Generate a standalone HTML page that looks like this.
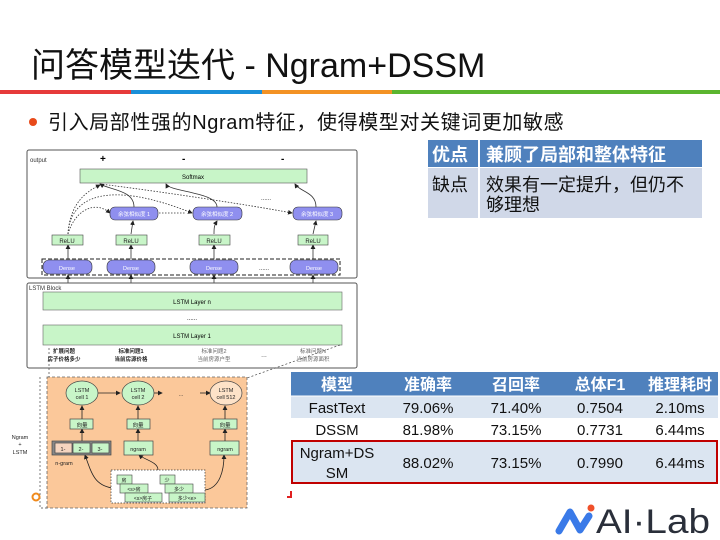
<!DOCTYPE html>
<html><head><meta charset="utf-8"><style>
body{margin:0;width:720px;height:540px;background:#fff;overflow:hidden;position:relative;font-family:"Liberation Sans","Noto Sans CJK SC",sans-serif}
.a{position:absolute}
</style></head><body>
<div class="a" style="left:31px;top:38px;font-size:34px;color:#111;white-space:nowrap">问答模型迭代 - Ngram+DSSM</div>
<div class="a" style="left:0;top:90px;width:131px;height:4px;background:#e63a3a"></div>
<div class="a" style="left:131px;top:90px;width:131px;height:4px;background:#1a8fd8"></div>
<div class="a" style="left:262px;top:90px;width:130px;height:4px;background:#f39224"></div>
<div class="a" style="left:392px;top:90px;width:328px;height:4px;background:#5bb52f"></div>
<div class="a" style="left:29px;top:118px;width:8px;height:8px;border-radius:50%;background:#e84a1a"></div>
<div class="a" style="left:48px;top:106px;font-size:20px;letter-spacing:0.6px;color:#111;white-space:nowrap">引入局部性强的Ngram特征，使得模型对关键词更加敏感</div>

<svg class="a" style="left:0;top:0" width="720" height="540" font-family="Liberation Sans,Noto Sans CJK SC,sans-serif">
<defs><marker id="m" markerWidth="6" markerHeight="6" refX="5" refY="3" orient="auto"><path d="M0,0L6,3L0,6z" fill="#222"/></marker></defs>
<rect x="428" y="140" width="274" height="27" fill="#4f81bd"/>
<rect x="428" y="168" width="274" height="50" fill="#d0d8e8"/>
<line x1="479" y1="140" x2="479" y2="218" stroke="#fff" stroke-width="2"/>
<text x="432" y="161" font-size="18" font-weight="bold" fill="#fff">优点</text>
<text x="486" y="161" font-size="18" font-weight="bold" fill="#fff">兼顾了局部和整体特征</text>
<text x="432" y="191" font-size="18" fill="#111">缺点</text>
<text x="486" y="191" font-size="18" fill="#111">效果有一定提升，但仍不</text>
<text x="486" y="211" font-size="18" fill="#111">够理想</text>

<rect x="27" y="150" width="330" height="128" rx="2" fill="#fff" stroke="#555"/>
<text x="30" y="162" font-size="6" fill="#333">output</text>
<text x="100" y="162" font-size="10" font-weight="bold">+</text>
<text x="182" y="162" font-size="10" font-weight="bold">-</text>
<text x="281" y="162" font-size="10" font-weight="bold">-</text>
<rect x="80" y="169" width="227" height="14" fill="#c8f5c8" stroke="#555" stroke-width=".6"/>
<text x="193" y="179" font-size="6" text-anchor="middle">Softmax</text>
<g stroke="#333" stroke-width=".8" fill="none" stroke-dasharray="1.5,1.5">
<path d="M68,234 C70,200 90,190 100,185" marker-end="url(#m)"/>
<path d="M68,234 C75,210 95,200 110,213" marker-end="url(#m)"/>
<path d="M68,234 C70,195 110,180 192,213" marker-end="url(#m)"/>
<path d="M100,184 C150,190 250,205 292,213" marker-end="url(#m)"/>
<path d="M120,213 L185,213" />
</g>
<g stroke="#333" stroke-width=".8" fill="none">
<path d="M134,207 C134,190 110,190 100,184" marker-end="url(#m)"/>
<path d="M217,207 C217,192 170,192 166,184" marker-end="url(#m)"/>
<path d="M316,207 C316,192 300,192 295,184" marker-end="url(#m)"/>
<path d="M131,234 L133,221" marker-end="url(#m)"/>
<path d="M214,234 C214,228 214,226 217,221" marker-end="url(#m)"/>
<path d="M313,234 L316,221" marker-end="url(#m)"/>
<path d="M68,259 L68,245" marker-end="url(#m)"/><path d="M131,259 L131,245" marker-end="url(#m)"/>
<path d="M214,259 L214,245" marker-end="url(#m)"/><path d="M313,259 L313,245" marker-end="url(#m)"/>
<path d="M68,283 L68,275" marker-end="url(#m)"/><path d="M131,292 L131,275" marker-end="url(#m)"/>
<path d="M214,292 L214,275" marker-end="url(#m)"/><path d="M313,292 L313,275" marker-end="url(#m)"/>
</g>
<g fill="#8f8fef" stroke="#333" stroke-width=".6">
<rect x="110" y="207" width="48" height="13" rx="5"/><rect x="193" y="207" width="49" height="13" rx="5"/><rect x="293" y="207" width="49" height="13" rx="5"/>
<rect x="43" y="260" width="49" height="14" rx="6"/><rect x="107" y="260" width="48" height="14" rx="6"/><rect x="190" y="260" width="48" height="14" rx="6"/><rect x="290" y="260" width="48" height="14" rx="6"/>
</g>
<g font-size="5.5" fill="#fff" text-anchor="middle">
<text x="134" y="216">余弦相似度 1</text><text x="217" y="216">余弦相似度 2</text><text x="317" y="216">余弦相似度 3</text>
<text x="67" y="270">Dense</text><text x="131" y="270">Dense</text><text x="214" y="270">Dense</text><text x="314" y="270">Dense</text>
</g>
<rect x="42" y="259" width="298" height="16" fill="none" stroke="#222" stroke-dasharray="4,2"/>
<g fill="#c8f5c8" stroke="#444" stroke-width=".6">
<rect x="52" y="235" width="31" height="10"/><rect x="116" y="235" width="31" height="10"/><rect x="199" y="235" width="31" height="10"/><rect x="298" y="235" width="30" height="10"/>
</g>
<g font-size="6" text-anchor="middle" fill="#222">
<text x="67" y="243">ReLU</text><text x="131" y="243">ReLU</text><text x="214" y="243">ReLU</text><text x="313" y="243">ReLU</text>
<text x="264" y="270">......</text><text x="266" y="200">......</text>
</g>
<rect x="27" y="283" width="330" height="85" rx="2" fill="#fff" stroke="#555"/>
<text x="29" y="290" font-size="6" fill="#333">LSTM Block</text>
<rect x="43" y="292" width="299" height="18" fill="#c8f5c8" stroke="#666" stroke-width=".6"/>
<text x="192" y="304" font-size="6" text-anchor="middle">LSTM Layer n</text>
<text x="192" y="320" font-size="6" text-anchor="middle">......</text>
<rect x="43" y="325" width="299" height="20" fill="#c8f5c8" stroke="#666" stroke-width=".6"/>
<text x="192" y="338" font-size="6" text-anchor="middle">LSTM Layer 1</text>
<g font-size="5.5" text-anchor="middle" fill="#222">
<text x="64" y="353" font-weight="bold">扩展问题</text><text x="64" y="361" font-weight="bold">房子价格多少</text>
<text x="131" y="353" font-weight="bold">标准问题1</text><text x="131" y="361" font-weight="bold">当前房源价格</text>
<text x="214" y="353" fill="#666">标准问题2</text><text x="214" y="361" fill="#666">当前房源户型</text>
<text x="264" y="358" fill="#666">---</text>
<text x="313" y="353" fill="#666">标准问题N</text><text x="313" y="361" fill="#666">当前房源面积</text>
</g>
<path d="M49,348 L49,377 M40,377 L40,508 L47,508 M340,345 L247,378" stroke="#444" stroke-width=".7" fill="none" stroke-dasharray="2,2"/>
<rect x="47" y="377" width="200" height="131" fill="#fbc89a" stroke="#666" stroke-width=".8" stroke-dasharray="3,2"/>
<g stroke="#222" stroke-width=".8" fill="none">
<path d="M98,393 L120,393" marker-end="url(#m)"/><path d="M154,393 L162,393" marker-end="url(#m)"/><path d="M200,393 L210,393" marker-end="url(#m)"/>
<path d="M82,419 L82,406" marker-end="url(#m)"/><path d="M138,419 L138,406" marker-end="url(#m)"/><path d="M225,419 L225,406" marker-end="url(#m)"/>
<path d="M82,441 L82,429" marker-end="url(#m)"/><path d="M138,441 L138,429" marker-end="url(#m)"/><path d="M225,441 L225,429" marker-end="url(#m)"/>
<path d="M112,488 C95,485 92,475 85,455" marker-end="url(#m)"/>
<path d="M158,470 C158,462 145,460 139,455" marker-end="url(#m)"/>
<path d="M205,490 C220,488 224,470 224,455" marker-end="url(#m)"/>
</g>
<g fill="#c8f5c8" stroke="#444" stroke-width=".7">
<ellipse cx="82" cy="393" rx="16" ry="12"/><ellipse cx="138" cy="393" rx="16" ry="12"/><ellipse cx="226" cy="393" rx="16" ry="12" fill="#fde2c8"/>
<rect x="70" y="419" width="23" height="10"/><rect x="127" y="419" width="23" height="10"/><rect x="213" y="419" width="24" height="10"/>
<rect x="52" y="441" width="59" height="14" fill="#888"/>
<rect x="55" y="443" width="17" height="10" fill="#f5d5c0"/><rect x="73" y="443" width="17" height="10"/><rect x="92" y="443" width="17" height="10"/>
<rect x="124" y="441" width="29" height="14"/><rect x="210" y="441" width="29" height="14"/>
</g>
<g font-size="5.5" text-anchor="middle" fill="#222">
<text x="82" y="392">LSTM</text><text x="82" y="399">cell 1</text>
<text x="138" y="392">LSTM</text><text x="138" y="399">cell 2</text>
<text x="226" y="392">LSTM</text><text x="226" y="399">cell 512</text>
<text x="181" y="396">...</text>
<text x="82" y="427">向量</text><text x="138" y="427">向量</text><text x="225" y="427">向量</text>
<text x="63" y="451">1-</text><text x="81" y="451">2-</text><text x="100" y="451">3-</text>
<text x="138" y="451">ngram</text><text x="225" y="451">ngram</text>
<text x="64" y="465">n-gram</text>
<text x="20" y="439">Ngram</text><text x="20" y="446">+</text><text x="20" y="454">LSTM</text>
</g>
<rect x="111" y="470" width="94" height="33" fill="#fff" stroke="#333" stroke-width=".7" stroke-dasharray="1.5,1.5"/>
<g fill="#c8f5c8" stroke="#444" stroke-width=".6">
<rect x="117" y="475" width="15" height="9"/><rect x="120" y="484" width="28" height="9"/><rect x="125" y="493" width="37" height="9"/>
<rect x="160" y="475" width="15" height="9"/><rect x="165" y="484" width="28" height="9"/><rect x="169" y="493" width="36" height="9"/>
</g>
<g font-size="5" text-anchor="middle" fill="#222">
<text x="124" y="482">房</text><text x="134" y="491">&lt;s&gt;房</text><text x="143" y="500">&lt;s&gt;房子</text>
<text x="167" y="482">少</text><text x="179" y="491">多少</text><text x="187" y="500">多少&lt;e&gt;</text>
</g>
<circle cx="36" cy="497" r="3.5" fill="none" stroke="#f08a1c" stroke-width="2"/>
<path d="M287,497 L291,497 L291,491" stroke="#e02020" stroke-width="2" fill="none"/>

<rect x="291" y="372" width="427" height="24" fill="#4f81bd"/>
<rect x="291" y="396" width="427" height="22" fill="#dbe5f1"/>
<rect x="291" y="418" width="427" height="22" fill="#fff"/>
<rect x="291" y="441" width="427" height="42" fill="#dbe5f1"/>
<line x1="291" y1="396" x2="718" y2="396" stroke="#fff"/>
<rect x="292" y="441" width="425" height="42" fill="none" stroke="#c00000" stroke-width="2"/>
<g font-size="16" text-anchor="middle" fill="#fff" font-weight="bold">
<text x="337" y="390">模型</text><text x="428" y="390">准确率</text><text x="516" y="390">召回率</text><text x="600" y="390">总体F1</text><text x="680" y="390">推理耗时</text>
</g>
<g font-size="15" text-anchor="middle" fill="#111">
<text x="337" y="413">FastText</text><text x="428" y="413">79.06%</text><text x="516" y="413">71.40%</text><text x="600" y="413">0.7504</text><text x="680" y="413">2.10ms</text>
<text x="337" y="435">DSSM</text><text x="428" y="435">81.98%</text><text x="516" y="435">73.15%</text><text x="600" y="435">0.7731</text><text x="680" y="435">6.44ms</text>
<text x="337" y="458">Ngram+DS</text><text x="337" y="478">SM</text>
<text x="428" y="468">88.02%</text><text x="516" y="468">73.15%</text><text x="600" y="468">0.7990</text><text x="680" y="468">6.44ms</text>
</g>
<path d="M559,531 L570,512 L580,530 L589,516" stroke="#3a7ae8" stroke-width="7" fill="none" stroke-linecap="round" stroke-linejoin="round"/>
<circle cx="591" cy="508" r="3.5" fill="#f0502a"/>
<text x="596" y="533" font-size="34" fill="#2a2f3a" textLength="114" lengthAdjust="spacingAndGlyphs">AI·Lab</text>
</svg>
</body></html>
